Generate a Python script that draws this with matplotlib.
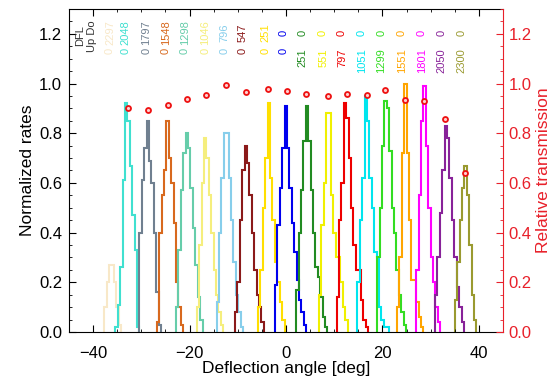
import numpy as np
import matplotlib.pyplot as plt
from matplotlib.ticker import MultipleLocator, FormatStrFormatter

plt.rcParams['font.family'] = ['Liberation Sans', 'DejaVu Sans']

# histogram data: left bin edge (deg) and counts per 0.5 deg bin
bin_width = 0.5
hist_start = [-37.7, -35.4, -30.4, -26.8, -22.8, -18.5, -14.4, -10.6, -5.8, -2.3,
              2.1, 6.8, 10.5, 14.8, 18.9, 23.0, 27.0, 30.9, 35.0]
hist_counts = [
    [0.10, 0.20, 0.27, 0.27, 0.20, 0.10, 0.03],
    [0.02, 0.11, 0.26, 0.61, 0.92, 0.85, 0.67, 0.47, 0.33, 0.02],
    [0.40, 0.61, 0.74, 0.85, 0.69, 0.60, 0.40, 0.16, 0.03],
    [0.04, 0.40, 0.55, 0.65, 0.85, 0.70, 0.60, 0.44, 0.20, 0.10, 0.03],
    [0.10, 0.33, 0.57, 0.72, 0.80, 0.74, 0.58, 0.42, 0.27, 0.14, 0.05],
    [0.10, 0.35, 0.60, 0.78, 0.70, 0.55, 0.40, 0.25, 0.15, 0.08, 0.03],
    [0.12, 0.40, 0.62, 0.80, 0.80, 0.62, 0.45, 0.28, 0.15, 0.08, 0.02],
    [0.08, 0.20, 0.45, 0.65, 0.75, 0.68, 0.55, 0.40, 0.25, 0.15, 0.10, 0.04],
    [0.10, 0.25, 0.50, 0.70, 0.92, 0.62, 0.45, 0.28, 0.20, 0.12, 0.05],
    [0.19, 0.43, 0.58, 0.74, 0.91, 0.74, 0.58, 0.44, 0.32, 0.21, 0.13, 0.08, 0.03],
    [0.17, 0.40, 0.57, 0.77, 0.91, 0.77, 0.57, 0.40, 0.26, 0.22, 0.14, 0.06, 0.02],
    [0.15, 0.43, 0.60, 0.88, 0.88, 0.55, 0.40, 0.30, 0.30, 0.20, 0.10, 0.05],
    [0.14, 0.45, 0.60, 0.92, 0.86, 0.70, 0.50, 0.35, 0.25, 0.25, 0.13, 0.05, 0.02],
    [0.20, 0.45, 0.62, 0.95, 0.85, 0.62, 0.50, 0.32, 0.30, 0.10, 0.05, 0.02, 0.02],
    [0.30, 0.50, 0.75, 0.93, 0.90, 0.73, 0.50, 0.40, 0.25, 0.15, 0.08, 0.03],
    [0.10, 0.30, 0.72, 1.00, 0.72, 0.45, 0.21, 0.21, 0.12, 0.06, 0.02],
    [0.25, 0.55, 0.85, 0.99, 0.75, 0.50, 0.30, 0.20, 0.10, 0.04],
    [0.15, 0.30, 0.48, 0.65, 0.83, 0.78, 0.62, 0.45, 0.30, 0.18, 0.10, 0.04],
    [0.13, 0.28, 0.45, 0.58, 0.67, 0.55, 0.35, 0.15, 0.05],
]
colors = ['#f8e8c8', '#40e0d0', '#708090', '#d8691e', '#66cdaa', '#f5ee7d',
          '#87ceeb', '#8b1a1a', '#ffdf00', '#0000ee', '#228b22', '#f0f000',
          '#ee0000', '#00e5ee', '#33dd22', '#ffa500', '#ff00ff', '#882299', '#9a9a30']

# DFL labels
label_x = [-36.5, -33.2, -29.0, -24.9, -21.0, -16.7, -12.7, -8.9, -4.2, -0.5,
           3.4, 7.7, 11.6, 15.7, 19.8, 24.0, 28.2, 32.3, 36.4]
dfl_up = ['0', '0', '0', '0', '0', '0', '0', '0', '0', '0',
          '251', '551', '797', '1051', '1299', '1551', '1801', '2050', '2300']
dfl_do = ['2297', '2048', '1797', '1548', '1298', '1046', '796', '547', '251', '0',
          '0', '0', '0', '0', '0', '0', '0', '0', '0']

# relative transmission
trans_x = [-32.7, -28.6, -24.4, -20.5, -16.5, -12.4, -8.3, -3.7, 0.3, 4.1,
           8.8, 12.7, 16.7, 20.5, 24.7, 28.7, 33.0, 37.1]
trans_y = [0.903, 0.895, 0.913, 0.939, 0.955, 0.996, 0.965, 0.979, 0.969, 0.956,
           0.951, 0.956, 0.953, 0.975, 0.935, 0.929, 0.859, 0.639]

red = '#e8202a'

fig = plt.figure(figsize=(5.54, 3.81), dpi=100)
ax = fig.add_axes([0.1245, 0.1286, 0.7834, 0.8478])

for x0, cnt, c in zip(hist_start, hist_counts, colors):
    edges = x0 + bin_width * np.arange(len(cnt) + 1)
    ax.stairs(cnt, edges, color=c, linewidth=1.5, baseline=0)

for x, up, do, c in zip(label_x, dfl_up, dfl_do, colors):
    ax.text(x, 1.142, up, rotation=90, color=c, fontsize=8, ha='center', va='top')
    ax.text(x, 1.205, do, rotation=90, color=c, fontsize=8, ha='center', va='center')
ax.text(-42.6, 1.195, 'DFL', rotation=90, color='#333333', fontsize=8, ha='center', va='center')
ax.text(-40.2, 1.19, 'Up Do', rotation=90, color='#333333', fontsize=8, ha='center', va='center')

ax.set_xlim(-45, 45)
ax.set_ylim(0, 1.3)
ax.xaxis.set_major_locator(MultipleLocator(20))
ax.xaxis.set_minor_locator(MultipleLocator(5))
ax.yaxis.set_major_locator(MultipleLocator(0.2))
ax.yaxis.set_minor_locator(MultipleLocator(0.05))
ax.yaxis.set_major_formatter(FormatStrFormatter('%.1f'))
ax.tick_params(which='both', direction='in', top=True, labelsize=12)
ax.tick_params(axis='y', pad=5)
ax.tick_params(axis='x', pad=10)
ax.tick_params(which='major', length=5)
ax.tick_params(which='minor', length=2.5)
ax.spines['right'].set_visible(False)
ax.set_xlabel('Deflection angle [deg]', fontsize=12.5, labelpad=0)
ax.set_ylabel('Normalized rates', fontsize=12.5, labelpad=3)

ax2 = ax.twinx()
ax2.plot(trans_x, trans_y, linestyle='none', marker='o', ms=3.6, mew=1.3,
         mec='#ee1111', mfc='#ffd0d0')
ax2.set_ylim(0, 1.3)
ax2.yaxis.set_major_locator(MultipleLocator(0.2))
ax2.yaxis.set_minor_locator(MultipleLocator(0.05))
ax2.yaxis.set_major_formatter(FormatStrFormatter('%.1f'))
ax2.tick_params(which='both', direction='in', colors=red, labelsize=12, pad=4)
ax2.tick_params(which='major', length=5)
ax2.tick_params(which='minor', length=2.5)
for s in ['left', 'top', 'bottom']:
    ax2.spines[s].set_visible(False)
ax2.spines['right'].set_color(red)
ax2.set_ylabel('Relative transmission', color=red, fontsize=12.5, labelpad=3)

fig.savefig('out.png', dpi=100)
